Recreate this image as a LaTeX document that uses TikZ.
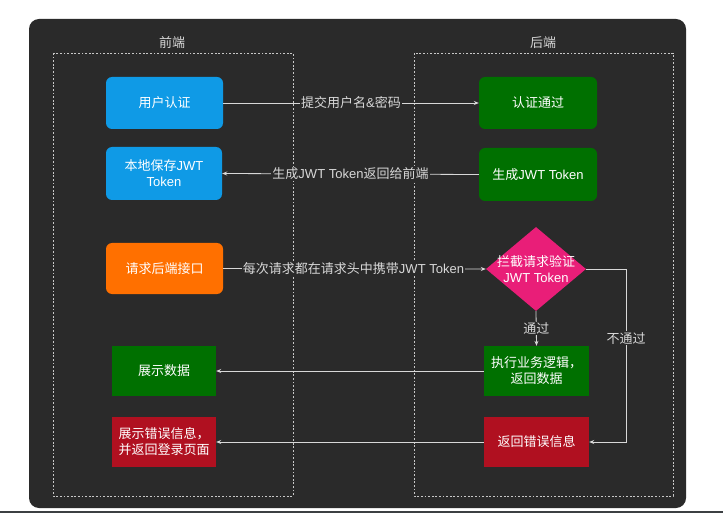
\documentclass[tikz,border=0pt]{standalone}
\usepackage{fontspec}
\setmainfont{Noto Sans CJK SC}
\newfontfamily\lat{Liberation Sans}
\usetikzlibrary{shapes.geometric,arrows.meta}
\definecolor{bgdark}{HTML}{2A2A2A}
\definecolor{cblue}{HTML}{0F9AE6}
\definecolor{cgreen}{HTML}{007000}
\definecolor{corange}{HTML}{FF7000}
\definecolor{cpink}{HTML}{E91E78}
\definecolor{cred}{HTML}{B01020}
\definecolor{lineg}{HTML}{D8D8D8}
\definecolor{frameg}{HTML}{C8C8C8}
\definecolor{stripg}{HTML}{3C4043}
\tikzset{
  box/.style={text=white, align=center, inner sep=2pt, font=\fontsize{13}{16}\selectfont},
  rbox/.style={box, rounded corners=6pt},
  conn/.style={draw=lineg, line width=0.8pt, -{Stealth[length=5pt,width=4pt]}},
  lab/.style={fill=bgdark, text=lineg, inner sep=1pt, font=\fontsize{13}{15}\selectfont},
  frame/.style={draw=frameg, line width=0.6pt, dash pattern=on 1.8pt off 1.8pt},
  title/.style={text=lineg, font=\fontsize{13}{15}\selectfont}
}
\begin{document}
\begin{tikzpicture}[x=1pt,y=-1pt]
\useasboundingbox (0,0) rectangle (723,513);
\fill[white] (0,0) rectangle (723,513);
\fill[bgdark, rounded corners=10pt] (29,19) rectangle (686,508);
\fill[stripg] (0,510.5) rectangle (723,513);
\draw[frame] (53,53) rectangle (293,496);
\draw[frame] (414,53) rectangle (673,496);
\node[title] (t1) at (172,43) {前端};
\node[title] (t2) at (543,43) {后端};

\node[rbox, fill=cblue, minimum width=117pt, minimum height=52pt] (u1) at (164.5,103) {用户认证};
\node[rbox, fill=cblue, minimum width=116pt, minimum height=53pt] (u2) at (164,173.5) {本地保存{\lat JWT}\\{\lat Token}};
\node[rbox, fill=corange, minimum width=117pt, minimum height=51pt] (u3) at (164.5,268.5) {请求后端接口};
\node[box, fill=cgreen, minimum width=104pt, minimum height=50pt] (u4) at (164,371) {展示数据};
\node[box, fill=cred, minimum width=104pt, minimum height=50pt] (u5) at (164,442) {展示错误信息，\\并返回登录页面};

\node[rbox, fill=cgreen, minimum width=118pt, minimum height=52pt] (b1) at (538,103) {认证通过};
\node[rbox, fill=cgreen, minimum width=118pt, minimum height=53pt] (b2) at (538,174.5) {生成{\lat JWT Token}};
\node[diamond, fill=cpink, minimum width=100pt, minimum height=84pt, inner sep=0pt,
  label={[box]center:{拦截请求验证\\{\lat JWT Token}}}] (d) at (536,269) {};
\node[box, fill=cgreen, minimum width=105pt, minimum height=50pt] (b3) at (536.5,371) {执行业务逻辑，\\返回数据};
\node[box, fill=cred, minimum width=105pt, minimum height=50pt] (b4) at (536.5,442) {返回错误信息};

\coordinate (k) at (626,269);

\draw[conn] (u1.east) -- node[lab] {提交用户名{\lat\&}密码} (b1.west);
\draw[conn] (b2.west) -- node[lab] {生成{\lat JWT Token}返回给前端} (u2.east);
\draw[conn] (u3.east) -- node[lab, xshift=-1pt] {每次请求都在请求头中携带{\lat JWT Token}} (d.west);
\draw[conn] (d.south) -- node[lab] {通过} (b3.north);
\draw[conn] (d.east) -- (k) |- node[lab, pos=0.2] {不通过} (b4.east);
\draw[conn] (b3.west) -- (u4.east);
\draw[conn] (b4.west) -- (u5.east);
\end{tikzpicture}
\end{document}
